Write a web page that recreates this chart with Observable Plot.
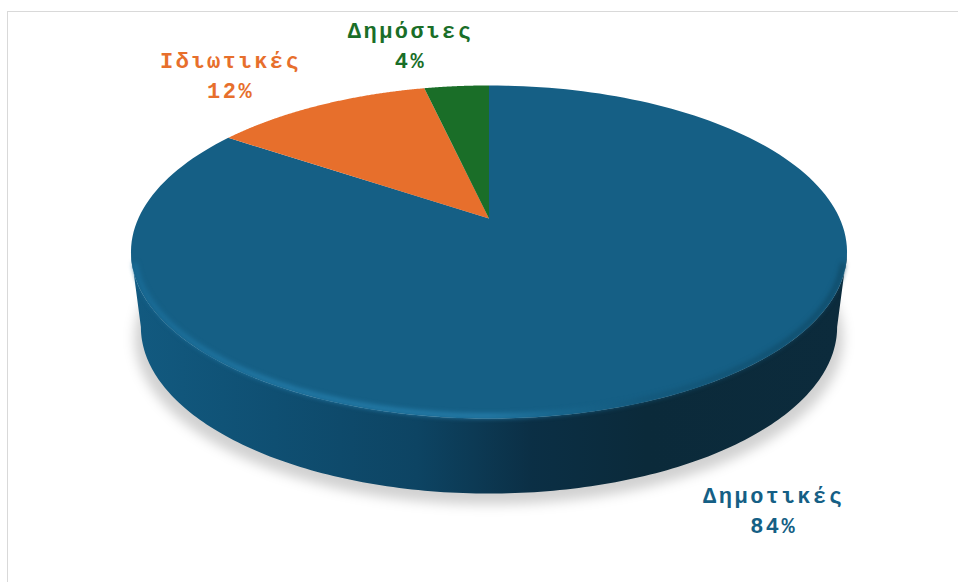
<!DOCTYPE html>
<html>
<head>
<meta charset="utf-8">
<script src="https://cdn.jsdelivr.net/npm/d3@7"></script>
<script src="https://cdn.jsdelivr.net/npm/@observablehq/plot@0.6"></script>
<style>html,body{margin:0;padding:0;background:#fff}svg{display:block}</style>
</head>
<body>
<div id="chart"></div>
<script>
// Data, clockwise from 12 o'clock
const names = ["Δημοτικές", "Ιδιωτικές", "Δημόσιες"];
const shares = [84.49, 11.97, 3.54];
const colors = ["#155f85", "#e76f2c", "#1a6e28"];

// Label offsets from each slice's rim point
const labelNudgeX = [85, -89, -46];
const labelNudgeY = [118, -32, -43];

// Pie projection: unit disk in perspective
const cx = 488.5, k = 0.2012, topA = 350.7, topB = 159.8, topY = 218;
const baseA = 341, baseB = 159.8, baseY = 293;
const project = (deg, A, B, Y, dy = 0) => {
  const t = deg * Math.PI / 180, u = Math.sin(t), v = Math.cos(t), d = 1 + k * v;
  return {x: cx + A * u / d, y: Y + dy - B * v / d};
};
const arc = (a0, a1, A, B, Y, dy = 0) =>
  d3.range(0, 181).map(i => project(a0 + (a1 - a0) * i / 180, A, B, Y, dy));

// Slices
let cum = 0;
const slices = shares.map((s, i) => {
  const a0 = cum * 3.6; cum += s; const a1 = cum * 3.6;
  const rim = project((a0 + a1) / 2, topA, topB, topY);
  return {name: names[i], share: s, color: colors[i], a0, a1, rim,
    points: [{x: cx, y: topY}, ...arc(a0, a1, topA, topB, topY)]};
});
const slicePts = slices.flatMap(s => s.points.map(p => ({...p, name: s.name, color: s.color})));
const labels = slices.map((s, i) => ({
  text: `${s.name}\n${Math.round(s.share)}%`,
  x: s.rim.x + labelNudgeX[i], y: s.rim.y + labelNudgeY[i], color: s.color
}));
const side = [...arc(101.6, 258.4, topA, topB, topY), ...arc(258.4, 101.6, baseA, baseB, baseY)];
const shadow = arc(0, 360, baseA + 6, baseB, baseY, 11);
const rimEdge = arc(106, 254, topA - 3, topB - 2, topY);

const defs = () => {
  const s = d3.create("svg:defs");
  const grad = (id, stops) => {
    const g = s.append("linearGradient").attr("id", id)
      .attr("gradientUnits", "userSpaceOnUse")
      .attr("x1", 131).attr("x2", 846).attr("y1", 0).attr("y2", 0);
    stops.forEach(([o, c]) => g.append("stop").attr("offset", o).attr("stop-color", c));
  };
  grad("sideFill", [[0, "#125a80"], [0.2, "#0f4f72"], [0.4, "#0d4463"], [0.56, "#0b2f45"], [0.72, "#0b2a3a"], [1, "#0c2b3c"]]);
  grad("rimFill", [[0, "#1a6e9a"], [0.2, "#2681b0"], [0.5, "#2a86b5"], [0.6, "#1a6a92"], [0.72, "#135678"], [1, "#0e4763"]]);
  return s.node();
};

const plot = Plot.plot({
  width: 958, height: 582,
  marginLeft: 7, marginTop: 11, marginRight: 0, marginBottom: 0,
  x: {domain: [7, 958], axis: null},
  y: {domain: [11, 582], range: [11, 582], axis: null},
  style: {background: "#fff", letterSpacing: "2.5px"},
  marks: [
    defs,
    Plot.frame({anchor: "top", stroke: "#d9d9d9"}),
    Plot.frame({anchor: "left", stroke: "#d9d9d9"}),
    Plot.line(shadow, {x: "x", y: "y", fill: "#000", fillOpacity: 0.18, stroke: "none", imageFilter: "blur(6px)"}),
    Plot.line(side, {x: "x", y: "y", fill: "url(#sideFill)", stroke: "none"}),
    Plot.line(slicePts, {x: "x", y: "y", z: "name", fill: d => d.color, stroke: "none"}),
    Plot.line(rimEdge, {x: "x", y: "y", stroke: "url(#rimFill)", strokeWidth: 4, imageFilter: "blur(2.5px)"}),
    Plot.text(labels, {
      x: "x", y: "y", text: "text", fill: "color",
      fontFamily: "Liberation Mono", fontWeight: "bold", fontSize: 22, lineHeight: 1.39
    })
  ],
  color: {type: "identity"}
});
document.getElementById("chart").append(plot);
</script>
</body>
</html>
